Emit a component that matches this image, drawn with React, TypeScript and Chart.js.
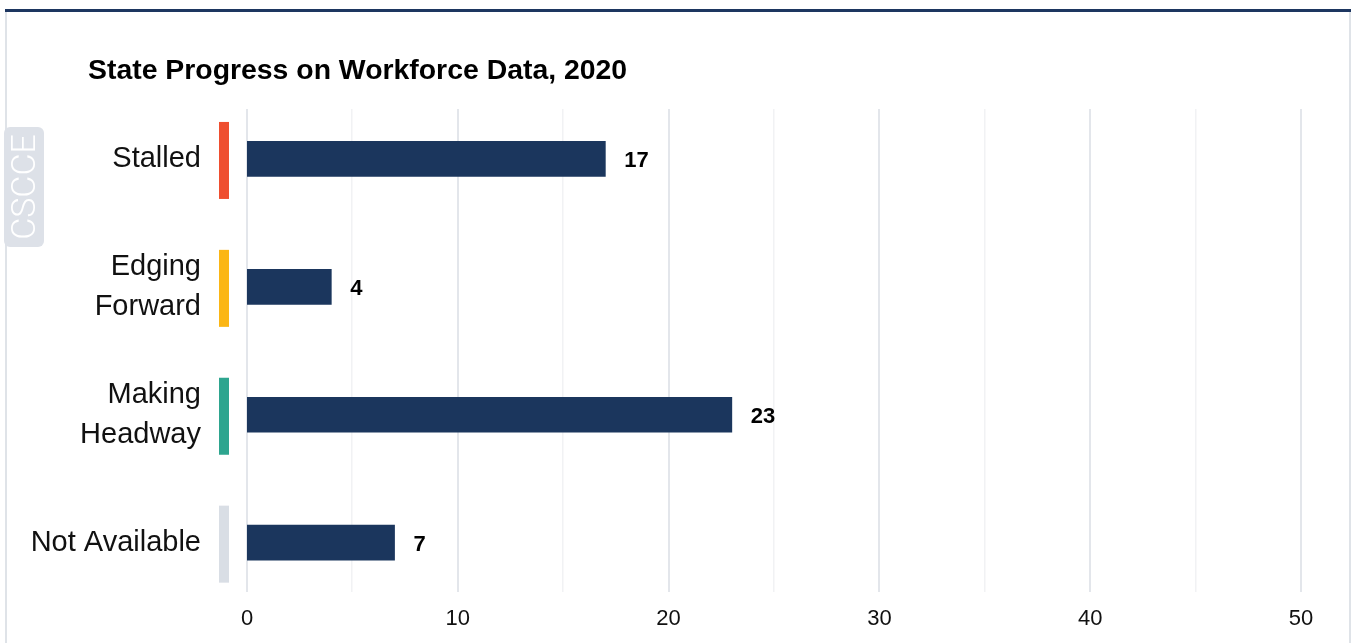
import React, { useEffect, useRef } from "react";
import { Chart, registerables } from "chart.js";

Chart.register(...registerables);

const chartTitle = "State Progress on Workforce Data, 2020";
const categoryLines: string[][] = [["Stalled"], ["Edging", "Forward"], ["Making", "Headway"], ["Not Available"]];
const values: number[] = [17, 4, 23, 7];
const statusColors: string[] = ["#ef4e2f", "#fbb615", "#2ea58f", "#d9dee5"];
const xTickStep = 10;
const gridStep = 5;
const xMax = 50;
const watermark = "CSCCE";

const FONT = "'Liberation Sans', Arial, sans-serif";
const BAR_COLOR = "#1b365d";

const decorPlugin = {
  id: "decor",
  beforeDraw(chart: any) {
    const ctx = chart.ctx;
    ctx.save();
    // frame
    ctx.fillStyle = "#dfe3e8";
    ctx.fillRect(5, 10, 2, 633);
    ctx.fillRect(1349, 10, 2, 633);
    ctx.fillStyle = "#1d3660";
    ctx.fillRect(5, 9, 1346, 3);
    // title
    ctx.fillStyle = "#000";
    ctx.font = `bold 28.4px ${FONT}`;
    ctx.textAlign = "left";
    ctx.textBaseline = "alphabetic";
    ctx.fillText(chartTitle, 88, 79);
    // watermark
    ctx.fillStyle = "#dde1e8";
    ctx.beginPath();
    (ctx as any).roundRect(4, 127, 40, 120, 6);
    ctx.fill();
    ctx.translate(25, 187);
    ctx.rotate(-Math.PI / 2);
    ctx.fillStyle = "#ffffff";
    ctx.font = `300 34px Roboto, ${FONT}`;
    ctx.textAlign = "center";
    ctx.textBaseline = "middle";
    ctx.fillText(watermark, 0, 1);
    ctx.restore();
  },
  beforeDatasetsDraw(chart: any) {
    const ctx = chart.ctx;
    const xs = chart.scales.x;
    const ys = chart.scales.y;
    ctx.save();
    for (let v = 0; v <= xMax; v += gridStep) {
      const px = xs.getPixelForValue(v);
      const major = v % xTickStep === 0;
      ctx.fillStyle = major ? "#e3e6eb" : "#f1f2f4";
      ctx.fillRect(Math.round(px) - 1, 109, major ? 2 : 1.5, 483);
    }
    categoryLines.forEach((lines, i) => {
      const cy = ys.getPixelForValue(i);
      ctx.fillStyle = statusColors[i];
      ctx.fillRect(219, cy - 37, 10, 77);
      ctx.fillStyle = "#111";
      ctx.font = `29px ${FONT}`;
      ctx.textAlign = "right";
      ctx.textBaseline = "middle";
      const lh = 40;
      const start = cy - ((lines.length - 1) * lh) / 2;
      lines.forEach((t, j) => ctx.fillText(t, 201, start + j * lh));
    });
    ctx.restore();
  },
  afterDatasetsDraw(chart: any) {
    const ctx = chart.ctx;
    const meta = chart.getDatasetMeta(0);
    ctx.save();
    ctx.fillStyle = "#000";
    ctx.font = `bold 22px ${FONT}`;
    ctx.textAlign = "left";
    ctx.textBaseline = "middle";
    meta.data.forEach((el: any, i: number) => {
      ctx.fillText(String(values[i]), el.x + 19, el.y + 2);
    });
    ctx.restore();
  },
};

export default function App() {
  const ref = useRef<HTMLCanvasElement | null>(null);
  useEffect(() => {
    if (!ref.current) return;
    const chart = new Chart(ref.current, {
      type: "bar",
      data: {
        labels: categoryLines,
        datasets: [
          {
            data: values,
            backgroundColor: BAR_COLOR,
            barThickness: 35,
            borderWidth: 0,
          },
        ],
      },
      options: {
        indexAxis: "y",
        animation: false,
        responsive: true,
        maintainAspectRatio: false,
        layout: { padding: { left: 247, right: 51, top: 95, bottom: 12 } },
        plugins: { legend: { display: false }, tooltip: { enabled: false }, title: { display: false } },
        scales: {
          x: {
            min: 0,
            max: xMax,
            grid: { display: false, drawTicks: false },
            border: { display: false },
            ticks: {
              stepSize: xTickStep,
              padding: -1,
              color: "#111",
              font: { family: FONT, size: 22 },
            },
          },
          y: {
            display: false,
            offset: true,
          },
        },
      },
      plugins: [decorPlugin],
    });
    return () => chart.destroy();
  }, []);
  return (
    <div style={{ position: "absolute", left: 0, top: 0, width: 1352, height: 643, background: "#fff" }}>
      <canvas ref={ref} />
    </div>
  );
}
